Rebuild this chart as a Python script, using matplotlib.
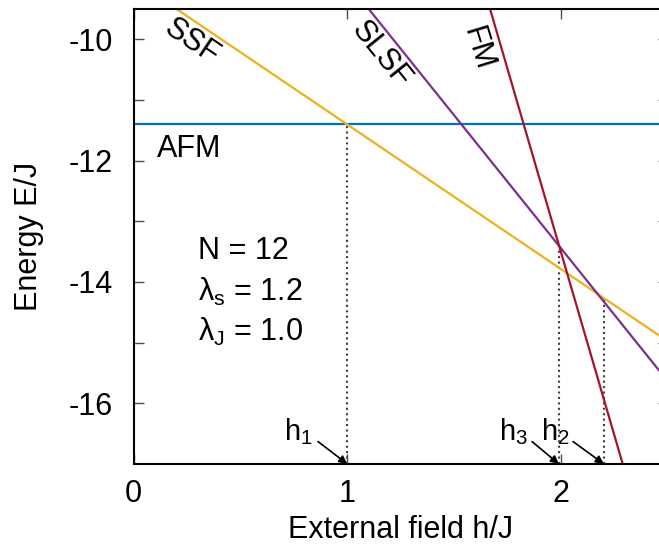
import numpy as np
import matplotlib
matplotlib.use('Agg')
import matplotlib.pyplot as plt

# Energy levels of the phases (two points per line)
h_afm = [0.0, 2.5]
E_afm = [-11.40, -11.40]
h_ssf = [0.0, 2.5]
E_ssf = [-9.02, -14.98]
h_slsf = [1.0, 2.5]
E_slsf = [-9.06, -15.64]
h_fm = [1.6, 2.3]
E_fm = [-8.68, -17.14]

# critical fields and the energies where the dotted lines stop
h_crit = [1.0, 1.99, 2.20]
E_crit = [-11.40, -13.46, -14.27]
crit_names = ['h$_1$', 'h$_3$', 'h$_2$']
# where the label text and the arrow tail sit
crit_text_x = [0.705, 1.71, 1.905]
crit_tail_x = [0.863, 1.864, 2.056]

params = ['N = 12', 'λ$_\\mathrm{s}$ = 1.2', 'λ$_\\mathrm{J}$ = 1.0']
params_y = [-13.49, -14.17, -14.83]

plt.rcParams['font.family'] = ['Liberation Sans', 'DejaVu Sans']
plt.rcParams['mathtext.fontset'] = 'custom'
plt.rcParams['mathtext.rm'] = 'Liberation Sans'
plt.rcParams['mathtext.it'] = 'Liberation Sans'
plt.rcParams['axes.unicode_minus'] = False

fig = plt.figure(figsize=(6.59, 5.46), dpi=100)
ax = fig.add_axes([0.2026, 0.1502, 0.811, 0.8333])

c_afm = '#0072bd'
c_ssf = '#edb120'
c_slsf = '#7e2f8e'
c_fm = '#a2142f'

ax.plot(h_afm, E_afm, color=c_afm, lw=1.6)
ax.plot(h_ssf, E_ssf, color=c_ssf, lw=1.6)
ax.plot(h_slsf, E_slsf, color=c_slsf, lw=1.6)
ax.plot(h_fm, E_fm, color=c_fm, lw=1.6)

# dotted drop lines and arrows for the critical fields
for h, E, name, tx, ax_tail in zip(h_crit, E_crit, crit_names, crit_text_x, crit_tail_x):
    ax.plot([h, h], [-17, E], color='0.25', lw=1.5, ls=(0, (1, 1.6)), zorder=1)
    ax.annotate('', xy=(h, -17), xytext=(ax_tail, -16.63),
                arrowprops=dict(arrowstyle='-|>', color='black', lw=1.2,
                                mutation_scale=12, shrinkA=0, shrinkB=0))
    ax.text(tx, -16.6, name, fontsize=21, va='baseline', ha='left')

# phase labels
fs = 22
ax.text(0.11, -11.81, 'AFM', fontsize=fs, va='center', ha='left')
ax.text(0.27, -10.05, 'SSF', fontsize=fs, va='center', ha='center',
        rotation=-34, rotation_mode='anchor')
ax.text(1.158, -10.26, 'SLSF', fontsize=fs, va='center', ha='center',
        rotation=-51, rotation_mode='anchor')
ax.text(1.611, -10.16, 'FM', fontsize=fs, va='center', ha='center',
        rotation=-73, rotation_mode='anchor')

for txt, y in zip(params, params_y):
    ax.text(0.30, y, txt, fontsize=fs, va='center', ha='left')

ax.set_xlim(0, 2.5)
ax.set_ylim(-17, -9.5)
ax.set_xticks([0, 1, 2])
ax.set_yticks([-10, -12, -14, -16])
ax.set_yticks([-11, -13, -15], minor=True)

ax.tick_params(which='both', direction='in', top=True, right=True,
               length=7, width=1, color='0.3', labelsize=fs)
ax.tick_params(axis='x', pad=11)
ax.tick_params(axis='y', pad=15)
for sp in ax.spines.values():
    sp.set_linewidth(1.5)

ax.set_xlabel('External field h/J', fontsize=fs)
ax.set_ylabel('Energy E/J', fontsize=fs)
ax.xaxis.set_label_coords(0.5, -0.113)
ax.yaxis.set_label_coords(-0.167, 0.5)

fig.savefig('out.png', dpi=100)
